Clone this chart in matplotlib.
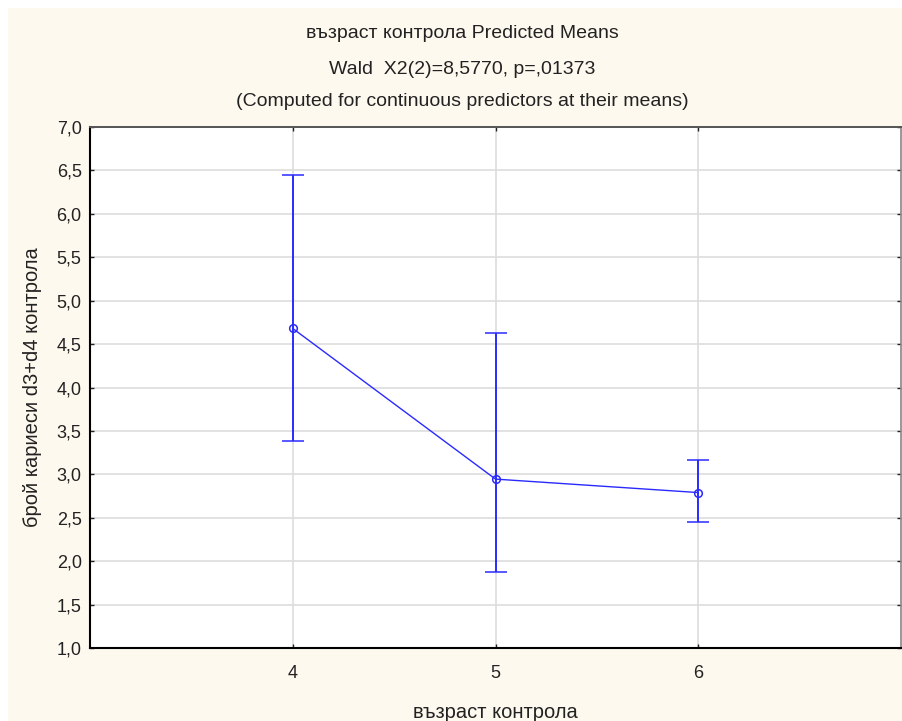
import matplotlib
matplotlib.use("Agg")
import matplotlib.pyplot as plt
from matplotlib.patches import Rectangle

ages = [4, 5, 6]
means = [4.68, 2.945, 2.79]
upper = [6.447, 4.623, 3.164]
lower = [3.382, 1.873, 2.453]
yticks = [1.0, 1.5, 2.0, 2.5, 3.0, 3.5, 4.0, 4.5, 5.0, 5.5, 6.0, 6.5, 7.0]
ytick_labels = [f"{v:.1f}".replace(".", ",") for v in yticks]

title_lines = ["възраст контрола Predicted Means",
               "Wald  X2(2)=8,5770, p=,01373",
               "(Computed for continuous predictors at their means)"]
xlabel = "възраст контрола"
ylabel = "брой кариеси d3+d4 контрола"

plt.rcParams['font.family'] = ['Liberation Sans', 'DejaVu Sans']

W, H = 902, 721
fig = plt.figure(figsize=(W / 100, H / 100), dpi=100)
fig.patch.set_facecolor("white")
fig.patches.append(Rectangle((8 / W, 0), 1 - 8 / W, 1 - 8 / H, transform=fig.transFigure,
                             facecolor="#fef9ef", edgecolor="none", zorder=-5))

left, right, top, bottom = 90, 901, 127, 648
ax = fig.add_axes([left / W, 1 - bottom / H, (right - left) / W, (bottom - top) / H])
ax.set_zorder(2)
ax.set_facecolor("white")

col = "#2a2aff"
err_lo = [m - l for m, l in zip(means, lower)]
err_hi = [u - m for m, u in zip(means, upper)]
ax.errorbar(ages, means, yerr=[err_lo, err_hi], fmt='o-', color=col, lw=1.0,
            elinewidth=1.4, capsize=8, capthick=1.4, markersize=5.5,
            markerfacecolor='none', markeredgecolor=col, markeredgewidth=1.1, zorder=3)

ax.set_xlim(3, 7)
ax.set_ylim(1, 7)
ax.set_xticks(ages)
ax.set_xticklabels([str(a) for a in ages], fontsize=13, color="#222222")
ax.set_yticks(yticks)
ax.set_yticklabels(ytick_labels, fontsize=13, color="#222222")
ax.grid(True, color="#dddddd", lw=1.2)
ax.set_axisbelow(True)
ax.tick_params(axis='both', direction='in', length=3, width=1, color="#222222",
               top=True, right=True, left=True, bottom=True)
ax.tick_params(axis='x', pad=12)
ax.tick_params(axis='y', pad=6)
for s in ['left', 'bottom']:
    ax.spines[s].set_color("#000000")
    ax.spines[s].set_linewidth(1.5)
ax.spines['top'].set_color("#555555")
ax.spines['top'].set_linewidth(1.4)
ax.spines['right'].set_color("#888888")
ax.spines['right'].set_linewidth(1.2)

ys = [33, 70, 101]
for t, y in zip(title_lines, ys):
    fig.text(462 / W, 1 - y / H, t, ha='center', va='center', fontsize=14, color="#222222")

fig.text(495 / W, 1 - 712 / H, xlabel, ha='center', va='center', fontsize=14.5, color="#222222")
fig.text(33 / W, 1 - 387 / H, ylabel, ha='center', va='center', rotation=90, fontsize=14.5,
         color="#222222")

fig.savefig("out.png", dpi=100, facecolor=fig.get_facecolor())
